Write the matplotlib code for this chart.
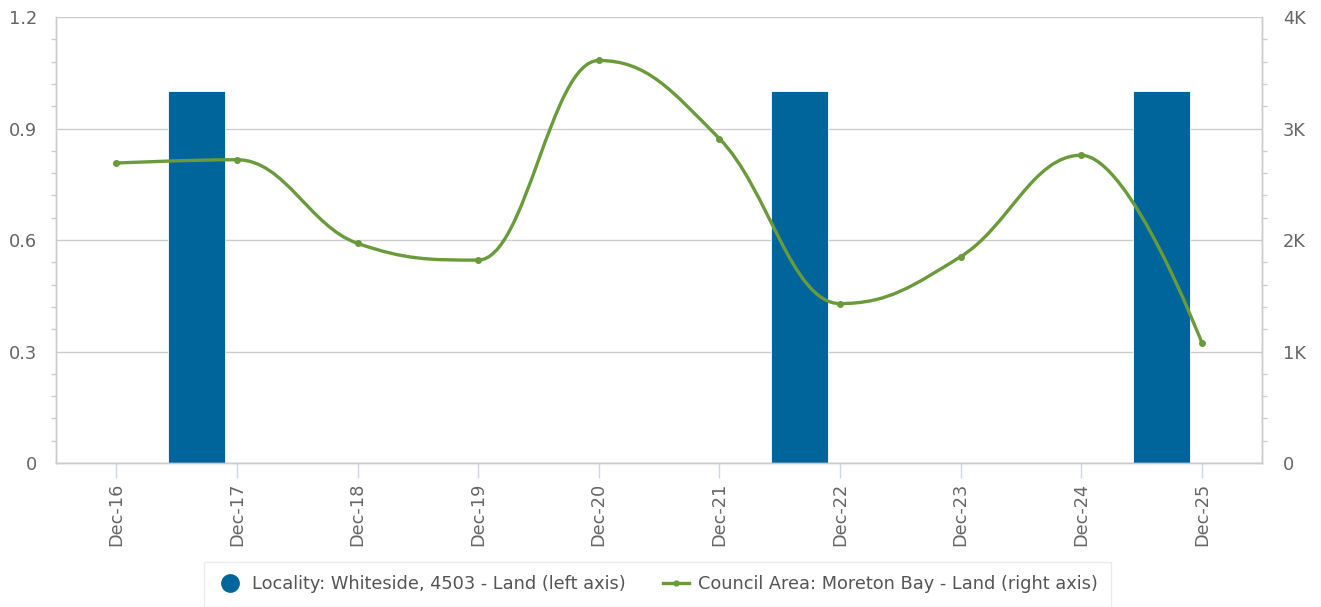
import numpy as np
import matplotlib
matplotlib.use("Agg")
import matplotlib.pyplot as plt
from matplotlib.path import Path
from matplotlib.patches import PathPatch
from matplotlib.lines import Line2D
from matplotlib.ticker import MultipleLocator, FuncFormatter

# ---- data ----
months = ["Dec-16", "Dec-17", "Dec-18", "Dec-19", "Dec-20",
          "Dec-21", "Dec-22", "Dec-23", "Dec-24", "Dec-25"]
locality_idx = [1, 6, 9]            # months that have a locality bar
locality_vals = [1, 1, 1]
council_vals = [2690, 2720, 1970, 1820, 3610, 2910, 1430, 1850, 2760, 1080]

bar_color = "#00659b"
line_color = "#6a9b3a"
text_color = "#666666"
grid_color = "#cccccc"
fs = 12.8


def spline_path(xs, ys, smoothing=1.5):
    # smooth curve through the points, same control point rule as highcharts
    n = len(xs)
    left = [None] * n
    right = [None] * n
    denom = smoothing + 1
    for i in range(1, n - 1):
        px, py = xs[i], ys[i]
        lx, ly = xs[i - 1], ys[i - 1]
        nx, ny = xs[i + 1], ys[i + 1]
        lcx = (smoothing * px + lx) / denom
        lcy = (smoothing * py + ly) / denom
        rcx = (smoothing * px + nx) / denom
        rcy = (smoothing * py + ny) / denom
        if rcx != lcx:
            corr = (rcy - lcy) * (rcx - px) / (rcx - lcx) + py - rcy
            lcy += corr
            rcy += corr
        if lcy > ly and lcy > py:
            lcy = max(ly, py)
            rcy = 2 * py - lcy
        elif lcy < ly and lcy < py:
            lcy = min(ly, py)
            rcy = 2 * py - lcy
        if rcy > ny and rcy > py:
            rcy = max(ny, py)
            lcy = 2 * py - rcy
        elif rcy < ny and rcy < py:
            rcy = min(ny, py)
            lcy = 2 * py - rcy
        left[i] = (lcx, lcy)
        right[i] = (rcx, rcy)
    verts = [(xs[0], ys[0])]
    codes = [Path.MOVETO]
    for i in range(1, n):
        c1 = right[i - 1] if right[i - 1] else (xs[i - 1], ys[i - 1])
        c2 = left[i] if left[i] else (xs[i], ys[i])
        verts += [c1, c2, (xs[i], ys[i])]
        codes += [Path.CURVE4] * 3
    return Path(verts, codes)


fig = plt.figure(figsize=(13.21, 6.07), dpi=100)
ax = fig.add_axes([0.0424, 0.2372, 0.9130, 0.7348])
ax2 = ax.twinx()

x = np.arange(len(months))

# bars sit a bit left of their month tick
bar_x = np.array(locality_idx) - 0.333
ax.bar(bar_x, locality_vals, width=0.475, color=bar_color,
       edgecolor="white", linewidth=0.6, zorder=2)

ax.set_xlim(-0.5, len(months) - 0.5)
ax.set_ylim(0, 1.2)
ax.yaxis.set_major_locator(MultipleLocator(0.3))
ax.yaxis.set_minor_locator(MultipleLocator(0.06))
ax.yaxis.set_major_formatter(FuncFormatter(lambda v, p: "0" if v == 0 else f"{v:.1f}"))
ax.grid(axis="y", color=grid_color, linewidth=1, zorder=0)
ax.set_axisbelow(True)

ax.set_xticks(x)
ax.set_xticklabels(months, rotation=90, color=text_color, fontsize=fs)
ax.tick_params(axis="x", length=10.5, color="#ccd6eb", width=1, pad=3.5)
ax.tick_params(axis="y", which="major", length=0, pad=13.5, labelcolor=text_color, labelsize=fs)
ax.tick_params(axis="y", which="minor", length=3.6, color=grid_color, width=1)

ax2.set_ylim(0, 4000)
ax2.yaxis.set_major_locator(MultipleLocator(1000))
ax2.yaxis.set_minor_locator(MultipleLocator(200))
ax2.yaxis.set_major_formatter(FuncFormatter(lambda v, p: "0" if v == 0 else f"{int(v/1000)}K"))
ax2.tick_params(axis="y", which="major", length=0, pad=15, labelcolor=text_color, labelsize=fs)
ax2.tick_params(axis="y", which="minor", length=3.6, color=grid_color, width=1)

for a in (ax, ax2):
    for s in a.spines.values():
        s.set_color(grid_color)
        s.set_linewidth(1)
    a.spines["top"].set_visible(False)

# council area line
path = spline_path(list(x.astype(float)), council_vals)
ax2.add_patch(PathPatch(path, facecolor="none", edgecolor=line_color,
                        linewidth=2.4, zorder=3))
ax2.plot(x, council_vals, "o", color=line_color, markersize=4, zorder=4)

handles = [
    Line2D([], [], marker="o", linestyle="none", color=bar_color, markersize=12.5),
    Line2D([], [], marker="o", linestyle="-", color=line_color, markersize=3.5, linewidth=2.4),
]
labels = ["Locality: Whiteside, 4503 - Land (left axis)",
          "Council Area: Moreton Bay - Land (right axis)"]
leg = fig.legend(handles, labels, loc="upper center", bbox_to_anchor=(0.4975, 0.0742),
                 ncol=2, frameon=True, fontsize=fs, handlelength=1.46,
                 handletextpad=0.5, columnspacing=2.1, borderpad=0.75,
                 borderaxespad=0, fancybox=False, labelcolor="#555555")
leg.get_frame().set_edgecolor("#e6e6e6")
leg.get_frame().set_linewidth(1)

fig.savefig("out.png", dpi=100, facecolor="white")
